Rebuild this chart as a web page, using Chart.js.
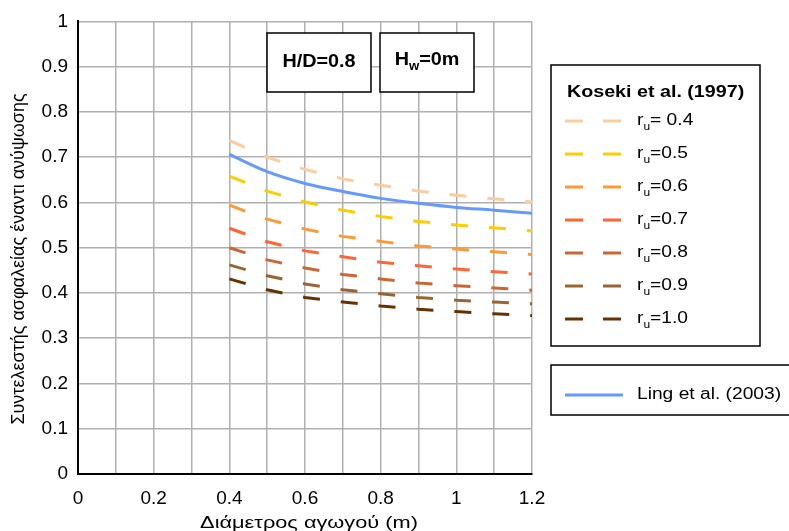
<!DOCTYPE html>
<html>
<head>
<meta charset="utf-8">
<script src="https://cdn.jsdelivr.net/npm/chart.js@4/dist/chart.umd.min.js"></script>
<style>
html,body{margin:0;padding:0;background:#fff;}
#wrap{width:789px;height:531px;position:relative;}
</style>
</head>
<body>
<div id="wrap"><canvas id="c" width="789" height="531"></canvas></div>
<script>
// Data (x = pipe diameter in m)
const diameters = [0.4, 0.5, 0.6, 0.7, 0.8, 0.9, 1.0, 1.1, 1.2];
const ru04 = [0.737, 0.700, 0.673, 0.652, 0.638, 0.625, 0.616, 0.608, 0.601];
const ru05 = [0.658, 0.625, 0.601, 0.583, 0.569, 0.558, 0.550, 0.544, 0.537];
const ru06 = [0.594, 0.563, 0.541, 0.525, 0.514, 0.504, 0.497, 0.491, 0.485];
const ru07 = [0.543, 0.513, 0.493, 0.480, 0.468, 0.460, 0.453, 0.447, 0.442];
const ru08 = [0.500, 0.473, 0.455, 0.441, 0.431, 0.422, 0.416, 0.411, 0.406];
const ru09 = [0.462, 0.438, 0.420, 0.407, 0.398, 0.390, 0.384, 0.380, 0.376];
const ru10 = [0.431, 0.407, 0.390, 0.380, 0.371, 0.364, 0.359, 0.354, 0.350];
const ling = [0.706, 0.668, 0.642, 0.624, 0.609, 0.598, 0.589, 0.583, 0.576];
const koseki = [
  {label: 'r_u= 0.4', values: ru04, color: '#FDCB9C'},
  {label: 'r_u=0.5', values: ru05, color: '#FFCC00'},
  {label: 'r_u=0.6', values: ru06, color: '#FF9933'},
  {label: 'r_u=0.7', values: ru07, color: '#FF6633'},
  {label: 'r_u=0.8', values: ru08, color: '#CC6633'},
  {label: 'r_u=0.9', values: ru09, color: '#996633'},
  {label: 'r_u=1.0', values: ru10, color: '#663300'}
];
const kosekiTitle = 'Koseki et al. (1997)';
const lingLabel = 'Ling et al. (2003)';
const lingColor = '#6699FF';
const xTitle = 'Διάμετρος αγωγού (m)';
const yTitle = 'Συντελεστής ασφαλείας έναντι ανύψωσης';
const box1Text = 'H/D=0.8';
const box2Text = 'H_w=0m';

const FONT = "'Liberation Sans', Arial, sans-serif";
const dash = [17, 21];

const datasets = koseki.map(s => ({
  label: s.label,
  data: diameters.map((d, i) => ({x: d, y: s.values[i]})),
  borderColor: s.color,
  borderWidth: 3,
  borderDash: dash,
  pointRadius: 0,
  fill: false,
  tension: 0
}));
datasets.push({
  label: lingLabel,
  data: diameters.map((d, i) => ({x: d, y: ling[i]})),
  borderColor: lingColor,
  borderWidth: 3,
  pointRadius: 0,
  fill: false,
  cubicInterpolationMode: 'monotone'
});

// text with optional "_x" subscript, horizontally stretched by sx
function measureSub(ctx, text, size, bold) {
  const w = bold ? 'bold ' : '';
  const parts = text.split('_');
  ctx.font = w + size + 'px ' + FONT;
  let width = ctx.measureText(parts[0]).width;
  if (parts.length > 1) {
    ctx.font = w + Math.round(size * 0.65) + 'px ' + FONT;
    width += ctx.measureText(parts[1].charAt(0)).width;
    ctx.font = w + size + 'px ' + FONT;
    width += ctx.measureText(parts[1].slice(1)).width;
  }
  return width;
}
function drawSubText(ctx, text, x, y, size, bold, sx) {
  const parts = text.split('_');
  const w = bold ? 'bold ' : '';
  ctx.save();
  ctx.translate(x, y);
  ctx.scale(sx, 1);
  ctx.textBaseline = 'middle';
  ctx.textAlign = 'left';
  let cx = 0;
  ctx.font = w + size + 'px ' + FONT;
  ctx.fillText(parts[0], cx, 0);
  cx += ctx.measureText(parts[0]).width;
  if (parts.length > 1) {
    const sub = parts[1].charAt(0);
    const rest = parts[1].slice(1);
    ctx.font = w + Math.round(size * 0.65) + 'px ' + FONT;
    ctx.fillText(sub, cx, size * 0.38);
    cx += ctx.measureText(sub).width;
    ctx.font = w + size + 'px ' + FONT;
    ctx.fillText(rest, cx, 0);
  }
  ctx.restore();
}

const overlay = {
  id: 'overlay',
  afterDraw(chart) {
    const ctx = chart.ctx;
    ctx.save();
    // axis titles
    ctx.fillStyle = '#000';
    ctx.save();
    ctx.translate(309, 523);
    ctx.scale(1.28, 1);
    ctx.font = '17px ' + FONT;
    ctx.textAlign = 'center';
    ctx.textBaseline = 'middle';
    ctx.fillText(xTitle, 0, 0);
    ctx.restore();
    ctx.save();
    ctx.translate(19, 259);
    ctx.rotate(-Math.PI / 2);
    ctx.font = '18px ' + FONT;
    ctx.textAlign = 'center';
    ctx.textBaseline = 'middle';
    ctx.fillText(yTitle, 0, 0);
    ctx.restore();

    ctx.strokeStyle = '#000';
    ctx.lineWidth = 1.5;
    // annotation boxes
    ctx.fillStyle = '#fff';
    ctx.fillRect(267, 33, 104, 59);
    ctx.strokeRect(267, 33, 104, 59);
    ctx.fillRect(380, 33, 94, 59);
    ctx.strokeRect(380, 33, 94, 59);
    ctx.fillStyle = '#000';
    const s1 = 1.1;
    const w1 = measureSub(ctx, box1Text, 18, true) * s1;
    drawSubText(ctx, box1Text, 319 - w1 / 2, 62, 18, true, s1);
    const w2 = measureSub(ctx, box2Text, 18, true) * s1;
    drawSubText(ctx, box2Text, 427 - w2 / 2, 60, 18, true, s1);

    // Koseki legend box
    ctx.strokeStyle = '#000';
    ctx.lineWidth = 1.5;
    ctx.strokeRect(551, 65, 209, 281);
    ctx.fillStyle = '#000';
    drawSubText(ctx, kosekiTitle, 567, 93, 16, true, 1.23);
    koseki.forEach((s, i) => {
      const y = 121 + i * 33;
      ctx.strokeStyle = s.color;
      ctx.lineWidth = 3;
      ctx.beginPath();
      ctx.moveTo(565, y); ctx.lineTo(583, y);
      ctx.moveTo(603, y); ctx.lineTo(621, y);
      ctx.stroke();
      ctx.fillStyle = '#000';
      drawSubText(ctx, s.label, 637, y, 16, false, 1.2);
    });
    // Ling legend box
    ctx.strokeStyle = '#000';
    ctx.lineWidth = 1.5;
    ctx.strokeRect(551, 365, 245, 50);
    ctx.strokeStyle = lingColor;
    ctx.lineWidth = 3;
    ctx.beginPath();
    ctx.moveTo(565, 395); ctx.lineTo(623, 395);
    ctx.stroke();
    ctx.fillStyle = '#000';
    drawSubText(ctx, lingLabel, 637, 395, 16, false, 1.2);
    ctx.restore();
  }
};

new Chart(document.getElementById('c'), {
  type: 'line',
  data: {datasets},
  options: {
    responsive: false,
    animation: false,
    layout: {padding: {top: 19, right: 257, left: 0, bottom: 0}},
    plugins: {legend: {display: false}, tooltip: {enabled: false}},
    scales: {
      x: {
        type: 'linear',
        min: 0, max: 1.2,
        afterFit(s) { s.height = 57; },
        ticks: {
          stepSize: 0.1,
          autoSkip: false,
          maxRotation: 0,
          padding: 13,
          color: '#000',
          font: {family: FONT, size: 19},
          callback(v) { const r = Math.round(v * 10); return r % 2 === 0 ? String(r / 10) : ''; }
        },
        grid: {color: '#b0b0b0', lineWidth: 1.5, drawTicks: false},
        border: {color: '#000', width: 2}
      },
      y: {
        min: 0, max: 1,
        afterFit(s) { s.width = 78; },
        ticks: {
          stepSize: 0.1,
          padding: 10,
          color: '#000',
          font: {family: FONT, size: 19},
          callback(v) { return String(Number(v.toFixed(1))); }
        },
        grid: {color: '#b0b0b0', lineWidth: 1.5, drawTicks: false},
        border: {color: '#000', width: 2}
      }
    }
  },
  plugins: [overlay]
});
</script>
</body>
</html>
